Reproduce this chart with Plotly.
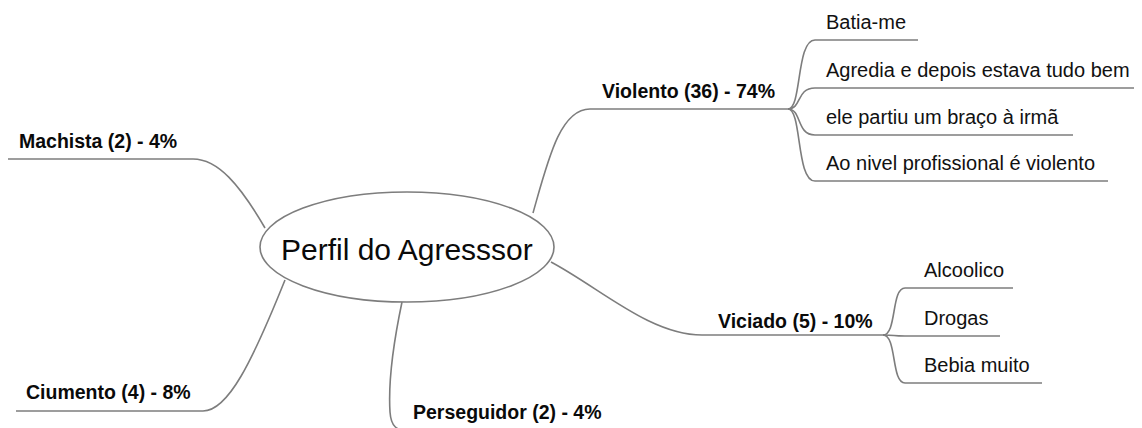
import plotly.graph_objects as go

# mind map content
ROOT = "Perfil do Agresssor"
BRANCHES = ["Violento", "Viciado", "Perseguidor", "Ciumento", "Machista"]
COUNTS = [36, 5, 2, 4, 2]
PERCENTS = [74, 10, 4, 8, 4]
VIOLENTO_ITEMS = [
    "Batia-me",
    "Agredia e depois estava tudo bem",
    "ele partiu um braço à irmã",
    "Ao nivel profissional é violento",
]
VICIADO_ITEMS = ["Alcoolico", "Drogas", "Bebia muito"]

W, H = 1142, 428
PAGE_MARGIN = 8  # default body margin of the html page
LINE = "#7d7d7d"
BOLD_FONT = dict(family="Liberation Sans, Arial", size=19.5, color="#0a0a0a")
ITEM_FONT = dict(family="Liberation Sans, Arial", size=20, color="#111111")
ROOT_FONT = dict(family="Liberation Sans, Arial", size=30, color="#0a0a0a")

# layout of the map (pixel space, y down)
ellipse = dict(cx=407, cy=247, rx=147, ry=55)

# per branch: connector path, label anchor
branch_geom = {
    "Violento": dict(path="M 533 213 C 548 160 560 109 590 109 L 788 109", tx=600, ty=91),
    "Viciado": dict(path="M 551 262 C 600 288 650 335 702 335 L 883 335", tx=716, ty=321),
    "Perseguidor": dict(path="M 402 302 C 394 340 388 380 390 412 C 391 426 396 431 410 431 L 700 431", tx=411, ty=412),
    "Ciumento": dict(path="M 16 411 L 203 411 C 228 411 252 362 285 280", tx=24, ty=392),
    "Machista": dict(path="M 8 159 L 193 159 C 218 159 240 185 265 228", tx=17, ty=141),
}

# sub-items: fork origin, line y values, line ends
violento_fork = (788, 109)
violento_y = [40, 88, 135, 181]
violento_end = [918, 1142, 1073, 1108]
viciado_fork = (883, 335)
viciado_y = [288, 336, 383]
viciado_end = [1013, 1000, 1042]

shapes = []
annotations = []

shapes.append(dict(
    type="circle", xref="x", yref="y",
    x0=ellipse["cx"] - ellipse["rx"], x1=ellipse["cx"] + ellipse["rx"],
    y0=ellipse["cy"] - ellipse["ry"], y1=ellipse["cy"] + ellipse["ry"],
    line=dict(color=LINE, width=1.6), fillcolor="white", layer="above",
))
annotations.append(dict(
    x=ellipse["cx"], y=ellipse["cy"] + 2, text=ROOT, showarrow=False,
    xanchor="center", yanchor="middle", font=ROOT_FONT,
))

for name, n, pct in zip(BRANCHES, COUNTS, PERCENTS):
    g = branch_geom[name]
    shapes.append(dict(type="path", path=g["path"], xref="x", yref="y",
                       line=dict(color=LINE, width=1.6), layer="below"))
    annotations.append(dict(
        x=g["tx"], y=g["ty"], text=f"<b>{name} ({n}) - {pct}%</b>",
        showarrow=False, xanchor="left", yanchor="middle", font=BOLD_FONT,
    ))


def add_items(items, fork, ys, ends, x_turn, x_text):
    fx, fy = fork
    for label, y, xe in zip(items, ys, ends):
        path = f"M {fx} {fy} C {fx + 14} {fy} {fx + 8} {y} {x_turn} {y} L {xe} {y}"
        shapes.append(dict(type="path", path=path, xref="x", yref="y",
                           line=dict(color=LINE, width=1.6), layer="below"))
        annotations.append(dict(
            x=x_text, y=y - 18, text=label, showarrow=False,
            xanchor="left", yanchor="middle", font=ITEM_FONT,
        ))


add_items(VIOLENTO_ITEMS, violento_fork, violento_y, violento_end, 815, 824)
add_items(VICIADO_ITEMS, viciado_fork, viciado_y, viciado_end, 905, 922)

fig = go.Figure()
fig.add_trace(go.Scatter(x=[PAGE_MARGIN, W], y=[PAGE_MARGIN, H], mode="markers",
                         marker=dict(opacity=0), hoverinfo="skip", showlegend=False))
# figure sits PAGE_MARGIN px in from the page corner, so the axes start there
fig.update_layout(
    width=W - PAGE_MARGIN, height=H - PAGE_MARGIN,
    margin=dict(l=0, r=0, t=0, b=0),
    paper_bgcolor="white", plot_bgcolor="white",
    xaxis=dict(range=[PAGE_MARGIN, W], visible=False, fixedrange=True),
    yaxis=dict(range=[H, PAGE_MARGIN], visible=False, fixedrange=True),
    shapes=shapes, annotations=annotations, showlegend=False,
)

fig.write_html("out.html")
